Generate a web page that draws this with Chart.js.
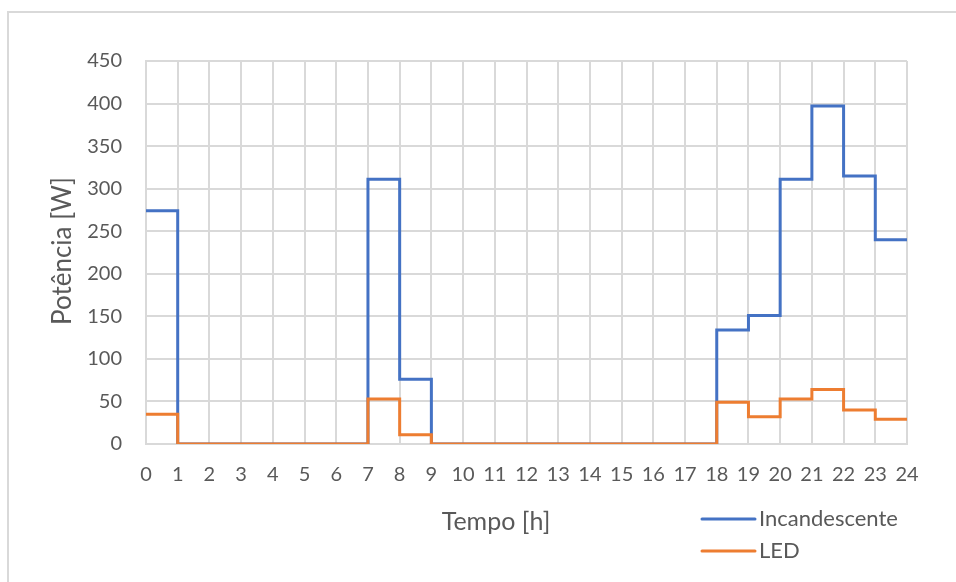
<!DOCTYPE html>
<html>
<head>
<meta charset="utf-8">
<script src="https://cdn.jsdelivr.net/npm/chart.js@4"></script>
<style>
  html, body { margin: 0; padding: 0; background: #fff; overflow: hidden; }
  #wrap { position: relative; width: 956px; height: 582px; }
  #frame { position: absolute; left: 7px; top: 11px; width: 1000px; height: 1000px;
           border-top: 2px solid #d9d9d9; border-left: 2px solid #d9d9d9; }
  canvas { position: absolute; left: 0; top: 0; }
</style>
</head>
<body>
<div id="wrap">
  <div id="frame"></div>
  <canvas id="powerChart" width="956" height="582"></canvas>
</div>
<script>
// hourly power (W), value at hour h holds until h+1
const hours = [0,1,2,3,4,5,6,7,8,9,10,11,12,13,14,15,16,17,18,19,20,21,22,23];
const incandescente = [274,0,0,0,0,0,0,311,76,0,0,0,0,0,0,0,0,0,134,151,311,397,315,240];
const led = [35,0,0,0,0,0,0,53,11,0,0,0,0,0,0,0,0,0,49,32,53,64,40,29];
const seriesNames = ['Incandescente', 'LED'];
const seriesColors = ['#4472C4', '#ED7D31'];
const xTitle = 'Tempo [h]';
const yTitle = 'Potência [W]';

const textColor = '#595959';
const fontFamily = 'Lato, "Open Sans", sans-serif';

function toSteps(values) {
    const pts = hours.map((h, i) => ({ x: h, y: values[i] }));
    // close the last hour at 24
    pts.push({ x: hours[hours.length - 1] + 1, y: values[values.length - 1] });
    return pts;
}

// titles and legend drawn by hand, positioned like the original
const decorations = {
    id: 'decorations',
    afterDraw(chart) {
        const ctx = chart.ctx;
        ctx.save();
        ctx.fillStyle = textColor;
        ctx.textAlign = 'center';
        ctx.textBaseline = 'middle';
        ctx.font = '25px ' + fontFamily;
        ctx.fillText(xTitle, 496, 522);

        ctx.font = '26px ' + fontFamily;
        ctx.translate(63, 251);
        ctx.rotate(-Math.PI / 2);
        ctx.fillText(yTitle, 0, 0);
        ctx.restore();

        ctx.save();
        ctx.font = '22px ' + fontFamily;
        ctx.textBaseline = 'middle';
        ctx.textAlign = 'left';
        seriesNames.forEach((name, i) => {
            const y = 519 + i * 32;
            ctx.strokeStyle = seriesColors[i];
            ctx.lineWidth = 3;
            ctx.lineCap = 'round';
            ctx.beginPath();
            ctx.moveTo(702, y);
            ctx.lineTo(755, y);
            ctx.stroke();
            ctx.fillStyle = textColor;
            ctx.fillText(name, 759, y);
        });
        ctx.restore();
    }
};

const ctx = document.getElementById('powerChart').getContext('2d');
new Chart(ctx, {
    type: 'line',
    data: {
        datasets: [
            {
                label: seriesNames[0],
                data: toSteps(incandescente),
                borderColor: seriesColors[0],
                borderWidth: 3,
                stepped: true,
                pointRadius: 0,
                fill: false,
                order: 1
            },
            {
                label: seriesNames[1],
                data: toSteps(led),
                borderColor: seriesColors[1],
                borderWidth: 3,
                stepped: true,
                pointRadius: 0,
                fill: false,
                order: 0
            }
        ]
    },
    options: {
        responsive: false,
        animation: false,
        events: [],
        layout: { padding: { top: 61, right: 49, bottom: 0, left: 0 } },
        plugins: {
            legend: { display: false },
            tooltip: { enabled: false }
        },
        scales: {
            x: {
                type: 'linear',
                min: 0,
                max: 24,
                ticks: {
                    stepSize: 1,
                    color: textColor,
                    padding: 19,
                    maxRotation: 0,
                    autoSkip: false,
                    font: { family: fontFamily, size: 20 }
                },
                grid: { color: '#d9d9d9', lineWidth: 2, drawTicks: false },
                border: { color: '#d9d9d9', width: 2 },
                afterFit: scale => { scale.height = 138; }
            },
            y: {
                min: 0,
                max: 450,
                ticks: {
                    stepSize: 50,
                    color: textColor,
                    padding: 24,
                    font: { family: fontFamily, size: 20 }
                },
                grid: { color: '#d9d9d9', lineWidth: 2, drawTicks: false },
                border: { color: '#d9d9d9', width: 2 },
                afterFit: scale => { scale.width = 146; }
            }
        }
    },
    plugins: [decorations]
});
</script>
</body>
</html>
